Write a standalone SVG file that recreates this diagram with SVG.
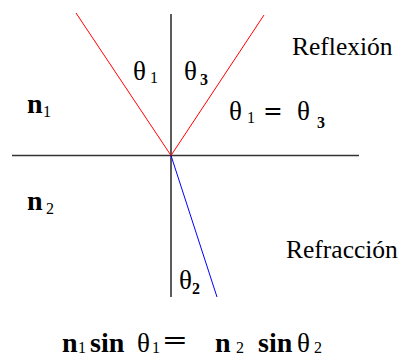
<svg xmlns="http://www.w3.org/2000/svg" width="401" height="358" viewBox="0 0 401 358">
<style>
.axis{stroke:#333;stroke-width:1.6;fill:none}
.ray-r{stroke:#ff0000;stroke-width:1;fill:none}
.ray-b{stroke:#0000ff;stroke-width:1;fill:none}
.th{font-size:27px}
.sub{font-size:16px}
.sub3{font-size:16px;font-weight:bold}
.nb{font-size:28px;font-weight:bold}
.lbl{font-size:25.5px}
</style>
<rect width="401" height="358" fill="#fff"/>
<g id="connectors">
<line class="axis" x1="171" y1="14" x2="171" y2="297"/>
<line class="axis" x1="12" y1="155.5" x2="359" y2="155.5"/>
<line class="ray-r" x1="76" y1="13" x2="171" y2="155.5"/>
<line class="ray-r" x1="264" y1="15" x2="171" y2="155.5"/>
<line class="ray-b" x1="171" y1="155.5" x2="217" y2="297"/>
</g>
<g font-family="'Liberation Serif', 'Times New Roman', 'DejaVu Serif', serif" fill="#000">
<g id="theta1"><text x="133" y="80" class="th">θ</text><text x="150" y="83" class="sub">1</text></g>
<g id="theta3"><text x="184" y="80" class="th">θ</text><text x="200" y="85" class="sub3">3</text></g>
<g id="reflexion"><text x="292" y="55" class="lbl">Reflexión</text></g>
<g id="eq-reflect">
<text x="229" y="120" class="th">θ</text><text x="247" y="123" class="sub">1</text>
<text x="264" y="121" class="nb" textLength="18" lengthAdjust="spacingAndGlyphs">=</text>
<text x="297" y="120" class="th">θ</text><text x="317" y="128" class="sub3">3</text>
</g>
<g id="n1"><text x="27" y="113" class="nb">n</text><text x="43" y="117" class="sub">1</text></g>
<g id="n2"><text x="27" y="210" class="nb">n</text><text x="46" y="214" class="sub">2</text></g>
<g id="theta2"><text x="179" y="289" class="th">θ</text><text x="192" y="294" class="sub3">2</text></g>
<g id="refraccion"><text x="286" y="258" class="lbl">Refracción</text></g>
<g id="snell">
<text x="62" y="352" class="nb" font-size="29">n</text><text x="78" y="353" class="sub" font-size="15">1</text>
<text x="90" y="352" class="nb" font-size="29">sin</text>
<text x="137" y="352" class="th" font-size="28">θ</text><text x="152" y="353" class="sub" font-size="15">1</text>
<text x="163" y="350" class="nb" textLength="24" lengthAdjust="spacingAndGlyphs">=</text>
<text x="215" y="352" class="nb" font-size="29">n</text><text x="236" y="353" class="sub">2</text>
<text x="258" y="352" class="nb" font-size="29">sin</text>
<text x="297" y="352" class="th" font-size="28">θ</text><text x="314" y="353" class="sub">2</text>
</g>
</g>
</svg>
